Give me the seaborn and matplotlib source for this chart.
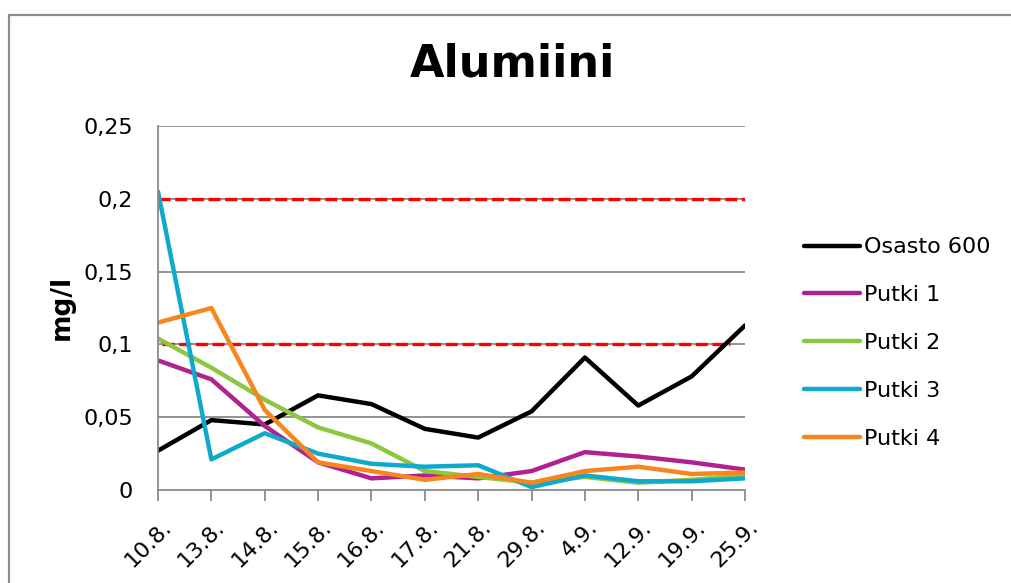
import matplotlib
matplotlib.use("Agg")
import matplotlib.pyplot as plt
import numpy as np
import pandas as pd
import seaborn as sns
from matplotlib.patches import Rectangle
from matplotlib.transforms import ScaledTranslation

# Sampling dates and aluminium concentrations (mg/l)
dates = ["10.8.", "13.8.", "14.8.", "15.8.", "16.8.", "17.8.",
         "21.8.", "29.8.", "4.9.", "12.9.", "19.9.", "25.9."]
osasto_600 = [0.027, 0.048, 0.045, 0.065, 0.059, 0.042, 0.036, 0.054, 0.091, 0.058, 0.078, 0.113]
putki_1 = [0.089, 0.076, 0.044, 0.019, 0.008, 0.010, 0.008, 0.013, 0.026, 0.023, 0.019, 0.014]
putki_2 = [0.104, 0.084, 0.062, 0.043, 0.032, 0.013, 0.009, 0.005, 0.009, 0.005, 0.007, 0.010]
putki_3 = [0.205, 0.021, 0.039, 0.025, 0.018, 0.016, 0.017, 0.002, 0.010, 0.006, 0.006, 0.008]
putki_4 = [0.115, 0.125, 0.055, 0.019, 0.013, 0.007, 0.011, 0.005, 0.013, 0.016, 0.011, 0.012]

series_names = ["Osasto 600", "Putki 1", "Putki 2", "Putki 3", "Putki 4"]
series_values = [osasto_600, putki_1, putki_2, putki_3, putki_4]
series_colors = ["#000000", "#B0228F", "#8DC63F", "#0FA9CC", "#F7861F"]

# Limit values drawn as red dashed lines
limit_values = [0.2, 0.1]

y_ticks = [0, 0.05, 0.1, 0.15, 0.2, 0.25]
y_tick_labels = ["0", "0,05", "0,1", "0,15", "0,2", "0,25"]

sns.set_theme(style="white")
plt.rcParams["font.family"] = ["DejaVu Sans"]
plt.rcParams["text.color"] = "black"
plt.rcParams["axes.labelcolor"] = "black"

df = pd.DataFrame({
    "pos": np.tile(np.arange(len(dates)), len(series_names)),
    "value": np.concatenate(series_values),
    "sarja": np.repeat(series_names, len(dates)),
})

fig = plt.figure(figsize=(10.11, 5.83), dpi=100)
fig.patch.set_facecolor("white")

# Outer chart border
fig.patches.append(Rectangle((9 / 1011, -0.2), 1.2, 0.2 + 1 - 15 / 583,
                             transform=fig.transFigure, fill=False,
                             edgecolor="#8C8C8C", linewidth=1.6))

ax = fig.add_axes([158 / 1011, 1 - 490 / 583, (745 - 158) / 1011, (490 - 126) / 583])

grid_color = "#8A8A8A"
for t in y_ticks[1:]:
    ax.axhline(t, color=grid_color, lw=1.3, zorder=0.5)

# Limit lines
ax.axhline(limit_values[0], xmin=0.0, xmax=1.0, color="#FF0000", lw=2.4,
           dashes=(3.6, 1.4), zorder=1)
ax.axhline(limit_values[1], xmin=0.006, xmax=0.975, color="#FF0000", lw=2.4,
           dashes=(3.6, 1.4), zorder=1)

sns.lineplot(data=df, x="pos", y="value", hue="sarja", hue_order=series_names,
             palette=series_colors, sort=False, linewidth=3.2, legend=False,
             ax=ax, zorder=2)
for ln in ax.get_lines():
    ln.set_solid_joinstyle("round")

ax.set_xlim(0, len(dates) - 1)
ax.set_ylim(0, 0.25)
ax.set_yticks(y_ticks)
ax.set_yticklabels(y_tick_labels, fontsize=16, color="black")
ax.set_xticks(np.arange(len(dates)))
ax.set_xticklabels(dates, fontsize=16, color="black", rotation=45,
                   ha="right", rotation_mode="anchor")
ax.tick_params(axis="x", direction="out", length=8, width=1.3, color=grid_color,
               pad=6, bottom=True)
ax.tick_params(axis="y", length=0, pad=18)
# nudge the rotated date labels down and to the right
shift = ScaledTranslation(3 / 100, -7 / 100, fig.dpi_scale_trans)
for tick in ax.xaxis.get_major_ticks():
    tick.label1.set_transform(tick.label1.get_transform() + shift)
ax.set_xlabel("")
ax.set_ylabel("")

fig.text(62 / 1011, 1 - 307 / 583, "mg/l", rotation=90, ha="center", va="center",
         fontsize=19, fontweight="bold", color="black")

for side in ["top", "right"]:
    ax.spines[side].set_visible(False)
for side in ["left", "bottom"]:
    ax.spines[side].set_color(grid_color)
    ax.spines[side].set_linewidth(1.3)

fig.text(0.507, 1 - 64 / 583, "Alumiini", ha="center", va="center",
         fontsize=32, fontweight="bold", color="black")

handles = [plt.Line2D([0], [0], color=c, lw=3.2, solid_capstyle="round")
           for c in series_colors]
fig.legend(handles, series_names, loc="center left",
           bbox_to_anchor=(804 / 1011, 1 - 343 / 583), frameon=False,
           fontsize=16, handlelength=2.5, handletextpad=0.2, labelspacing=1.25,
           borderpad=0, borderaxespad=0, labelcolor="black")

fig.savefig("out.png", dpi=100)
